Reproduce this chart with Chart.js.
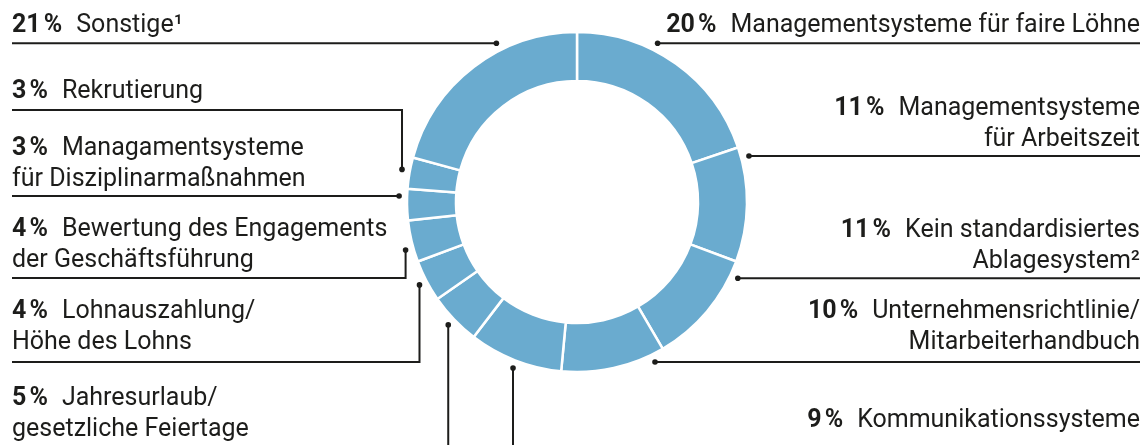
<!DOCTYPE html>
<html>
<head>
<meta charset="utf-8">
<script src="https://cdn.jsdelivr.net/npm/chart.js@4.4.1/dist/chart.umd.min.js"></script>
<style>
  html, body { margin: 0; padding: 0; background: #ffffff; }
  #wrap { width: 1148px; height: 445px; }
</style>
</head>
<body>
<div id="wrap"><canvas id="c" width="1148" height="445"></canvas></div>
<script>
// ---- data ----
const categories = [
  'Managementsysteme für faire Löhne',
  'Managementsysteme für Arbeitszeit',
  'Kein standardisiertes Ablagesystem²',
  'Unternehmensrichtlinie/ Mitarbeiterhandbuch',
  'Kommunikationssysteme',
  'Jahresurlaub/ gesetzliche Feiertage',
  'Lohnauszahlung/ Höhe des Lohns',
  'Bewertung des Engagements der Geschäftsführung',
  'Managamentsysteme für Disziplinarmaßnahmen',
  'Rekrutierung',
  'Sonstige¹'
];
const shares = [20, 11, 11, 10, 9, 5, 4, 4, 3, 3, 21];
const shareLabels = ['20\u202F%', '11\u202F%', '11\u202F%', '10\u202F%', '9\u202F%', '5\u202F%', '4\u202F%', '4\u202F%', '3\u202F%', '3\u202F%', '21\u202F%'];
const labelLines = [
  ['Managementsysteme für faire Löhne'],
  ['Managementsysteme', 'für Arbeitszeit'],
  ['Kein standardisiertes', 'Ablagesystem²'],
  ['Unternehmensrichtlinie/', 'Mitarbeiterhandbuch'],
  ['Kommunikationssysteme'],
  ['Jahresurlaub/', 'gesetzliche Feiertage'],
  ['Lohnauszahlung/', 'Höhe des Lohns'],
  ['Bewertung des Engagements', 'der Geschäftsführung'],
  ['Managamentsysteme', 'für Disziplinarmaßnahmen'],
  ['Rekrutierung'],
  ['Sonstige¹']
];

// ---- layout of annotations (label placement & leader styles) ----
const leaderLayout = [
  {side: 'right', textY: 31.5, lineY: 43.3, type: 'h'},
  {side: 'right', textY: 115,  lineY: 156,  type: 'h'},
  {side: 'right', textY: 236.5, lineY: 278.3, type: 'h'},
  {side: 'right', textY: 318,  lineY: 362,  type: 'h'},
  {side: 'right', textY: 427,  type: 'down', frac: 0.49},
  {side: 'left',  textY: 405,  type: 'down', frac: 0.5},
  {side: 'left',  textY: 318,  lineY: 362,  type: 'v', frac: 0.49},
  {side: 'left',  textY: 236,  lineY: 278,  type: 'v', frac: 0.34},
  {side: 'left',  textY: 155,  lineY: 196,  type: 'h'},
  {side: 'left',  textY: 98.3, lineY: 110,  type: 'v', frac: 0.57},
  {side: 'left',  textY: 31.5, lineY: 43.3, type: 'h'}
];
const LEFT_X = 12, RIGHT_X = 1140, LINE_H = 31, GAP = 14, DOT_OFFSET = 8;
const INK = '#1d1d1b';

const leaderPlugin = {
  id: 'leaders',
  afterDraw(chart) {
    const ctx = chart.ctx;
    const meta = chart.getDatasetMeta(0);
    ctx.save();
    ctx.strokeStyle = INK;
    ctx.fillStyle = INK;
    ctx.lineWidth = 2;
    meta.data.forEach((arc, i) => {
      const p = arc.getProps(['x', 'y', 'startAngle', 'endAngle', 'outerRadius'], true);
      const R = p.outerRadius + DOT_OFFSET;
      const L = leaderLayout[i];
      const edgeX = L.side === 'left' ? LEFT_X : RIGHT_X;
      let dx, dy;
      if (L.type === 'h') {
        dy = L.lineY;
        const off = Math.sqrt(Math.max(R * R - (dy - p.y) * (dy - p.y), 0));
        dx = L.side === 'left' ? p.x - off : p.x + off;
        ctx.beginPath(); ctx.moveTo(edgeX, dy); ctx.lineTo(dx, dy); ctx.stroke();
      } else {
        const a = p.startAngle + (p.endAngle - p.startAngle) * L.frac;
        dx = p.x + R * Math.cos(a);
        dy = p.y + R * Math.sin(a);
        ctx.beginPath();
        if (L.type === 'v') {
          ctx.moveTo(dx, dy); ctx.lineTo(dx, L.lineY); ctx.lineTo(edgeX, L.lineY);
        } else {
          ctx.moveTo(dx, dy); ctx.lineTo(dx, chart.height + 5);
        }
        ctx.stroke();
      }
      ctx.beginPath(); ctx.arc(dx, dy, 2.8, 0, Math.PI * 2); ctx.fill();

      // text
      const lines = labelLines[i];
      ctx.textBaseline = 'alphabetic';
      ctx.font = 'bold 25px Roboto';
      const bw = ctx.measureText(shareLabels[i]).width;
      ctx.font = '25px Roboto';
      const nw = ctx.measureText(lines[0]).width;
      if (L.side === 'left') {
        ctx.textAlign = 'left';
        ctx.font = 'bold 25px Roboto';
        ctx.fillText(shareLabels[i], LEFT_X, L.textY);
        ctx.font = '25px Roboto';
        ctx.fillText(lines[0], LEFT_X + bw + GAP, L.textY);
        for (let k = 1; k < lines.length; k++) ctx.fillText(lines[k], LEFT_X, L.textY + LINE_H * k);
      } else {
        ctx.textAlign = 'right';
        ctx.font = '25px Roboto';
        ctx.fillText(lines[0], RIGHT_X, L.textY);
        for (let k = 1; k < lines.length; k++) ctx.fillText(lines[k], RIGHT_X, L.textY + LINE_H * k);
        ctx.font = 'bold 25px Roboto';
        ctx.fillText(shareLabels[i], RIGHT_X - nw - GAP, L.textY);
      }
    });
    ctx.restore();
  }
};

new Chart(document.getElementById('c'), {
  type: 'doughnut',
  data: {
    labels: categories,
    datasets: [{
      data: shares,
      backgroundColor: '#6aabcf',
      borderColor: '#ffffff',
      borderWidth: 2.5,
      hoverOffset: 0
    }]
  },
  options: {
    responsive: false,
    animation: false,
    radius: 170,
    cutout: '71.2%',
    layout: { padding: { left: 6, right: 0, top: 0, bottom: 41 } },
    plugins: { legend: { display: false }, tooltip: { enabled: false } },
    events: []
  },
  plugins: [leaderPlugin]
});
</script>
</body>
</html>
